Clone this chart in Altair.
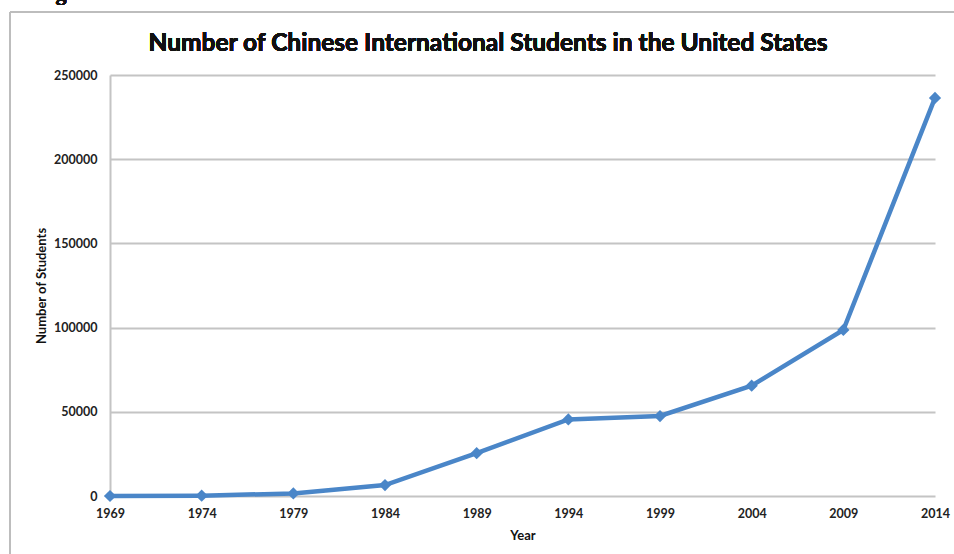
import altair as alt
import pandas as pd

years = [1969, 1974, 1979, 1984, 1989, 1994, 1999, 2004, 2009, 2014]
students = [0, 200, 1500, 6500, 25400, 45500, 47500, 65500, 98600, 236400]
y_ticks = [0, 50000, 100000, 150000, 200000, 250000]
title_text = "Number of Chinese International Students in the United States"

df = pd.DataFrame({"Year": years, "Students": students})

LINE = "#4a86c8"
GRID = "#c4c4c4"
FONT = "Lato"

x_enc = alt.X(
    "Year:Q",
    scale=alt.Scale(domain=[1969, 2014], nice=False, zero=False),
    axis=alt.Axis(
        values=years, format="d", title="Year", grid=False, domain=False, ticks=False,
        labelFlush=False, labelPadding=11, labelFont=FONT, labelFontWeight="bold",
        labelFontSize=12.5, labelColor="#222222", titleFont=FONT, titleFontSize=13,
        titleFontWeight="bold", titleColor="#111111", titlePadding=10,
    ),
)
y_enc = alt.Y(
    "Students:Q",
    scale=alt.Scale(domain=[0, 250000], nice=False),
    axis=alt.Axis(
        values=y_ticks, format="d", title="Number of Students", grid=True,
        gridColor=GRID, gridWidth=2, domain=True, domainColor=GRID, domainWidth=2,
        ticks=False, labelPadding=13, labelFont=FONT, labelFontWeight="bold",
        labelFontSize=12.5, labelColor="#222222", titleFont=FONT, titleFontSize=13,
        titleFontWeight="bold", titleColor="#111111", titlePadding=5,
    ),
)

line = alt.Chart(df).mark_line(color=LINE, strokeWidth=4.5).encode(x=x_enc, y=y_enc)
points = alt.Chart(df).mark_point(
    shape="diamond", filled=True, color=LINE, size=150, opacity=1
).encode(x="Year:Q", y="Students:Q")

title = alt.Chart(df).mark_text(
    text=title_text, font=FONT, fontSize=24.5, fontWeight="bold", color="#111111",
    align="center", baseline="alphabetic",
).encode(x=alt.value(378), y=alt.value(-24))

border_top = alt.Chart(df).mark_rule(color="#bdbdbd", strokeWidth=2).encode(
    x=alt.value(-100), x2=alt.value(850), y=alt.value(-63)
)
border_left = alt.Chart(df).mark_rule(color="#bdbdbd", strokeWidth=2).encode(
    x=alt.value(-100), y=alt.value(-63), y2=alt.value(485)
)
fig = alt.Chart(df).mark_text(
    text="Figure", font="Liberation Serif", fontSize=22, fontWeight="bold",
    color="#111111", align="left", baseline="alphabetic",
).encode(x=alt.value(-74), y=alt.value(-75))

chart = alt.layer(border_top, border_left, fig, title, line, points).properties(
    width=825, height=421,
    autosize=alt.AutoSizeParams(type="none"),
    padding={"left": 110, "top": 75, "right": 19, "bottom": 58},
).configure_view(stroke=None)

chart.save("out.html", embed_options={"renderer": "svg", "actions": False})
